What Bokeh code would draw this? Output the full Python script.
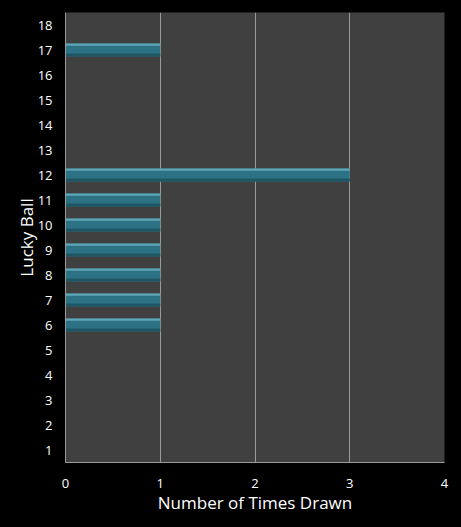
from bokeh.plotting import figure
from bokeh.models import FixedTicker, Range1d
from bokeh.embed import file_html
from bokeh.resources import INLINE

balls = list(range(1, 19))
times_drawn = [0, 0, 0, 0, 0, 1, 1, 1, 1, 1, 1, 3, 0, 0, 0, 0, 1, 0]
x_ticks = [0, 1, 2, 3, 4]

p = figure(width=461, height=527, output_backend="svg", toolbar_location=None,
           x_range=Range1d(0, 4), y_range=Range1d(0.5, 18.5),
           border_fill_color="black",
           min_border_left=65, min_border_right=17, min_border_top=12, min_border_bottom=65)
p.background_fill_color = "#404040"
p.outline_line_color = None

ys = [b for b, v in zip(balls, times_drawn) if v > 0]
vs = [v for v in times_drawn if v > 0]
# base bar
p.hbar(y=ys, right=vs, left=0, height=0.52, fill_color="#2d7284", line_color=None)
# bottom shade
p.hbar(y=[y - 0.2 for y in ys], right=vs, left=0, height=0.12, fill_color="#1f5664", line_color=None)
# top highlight
p.hbar(y=[y + 0.215 for y in ys], right=vs, left=0, height=0.09, fill_color="#5fa6b7", line_color=None)

p.xaxis.ticker = FixedTicker(ticks=x_ticks)
p.yaxis.ticker = FixedTicker(ticks=balls)
p.xgrid.ticker = FixedTicker(ticks=x_ticks)
p.xgrid.grid_line_color = "#9a9a9a"
p.ygrid.grid_line_color = None

for ax in (p.xaxis, p.yaxis):
    ax.axis_line_color = "#9a9a9a"
    ax.major_tick_line_color = None
    ax.minor_tick_line_color = None
    ax.major_label_text_color = "white"
    ax.major_label_text_font = "Open Sans"
    ax.major_label_text_font_size = "13px"
    ax.axis_label_text_color = "white"
    ax.axis_label_text_font = "Open Sans"
    ax.axis_label_text_font_size = "17px"
    ax.axis_label_text_font_style = "normal"

p.xaxis.axis_label = "Number of Times Drawn"
p.yaxis.axis_label = "Lucky Ball"
p.xaxis.major_label_standoff = 10
p.yaxis.major_label_standoff = 7
p.xaxis.axis_label_standoff = 0
p.yaxis.axis_label_standoff = -3

html = file_html(p, INLINE)
html = html.replace("</head>", "<style>html,body{background:black;margin:0;padding:0;overflow:hidden}</style></head>", 1)
open("out.html", "w").write(html)
